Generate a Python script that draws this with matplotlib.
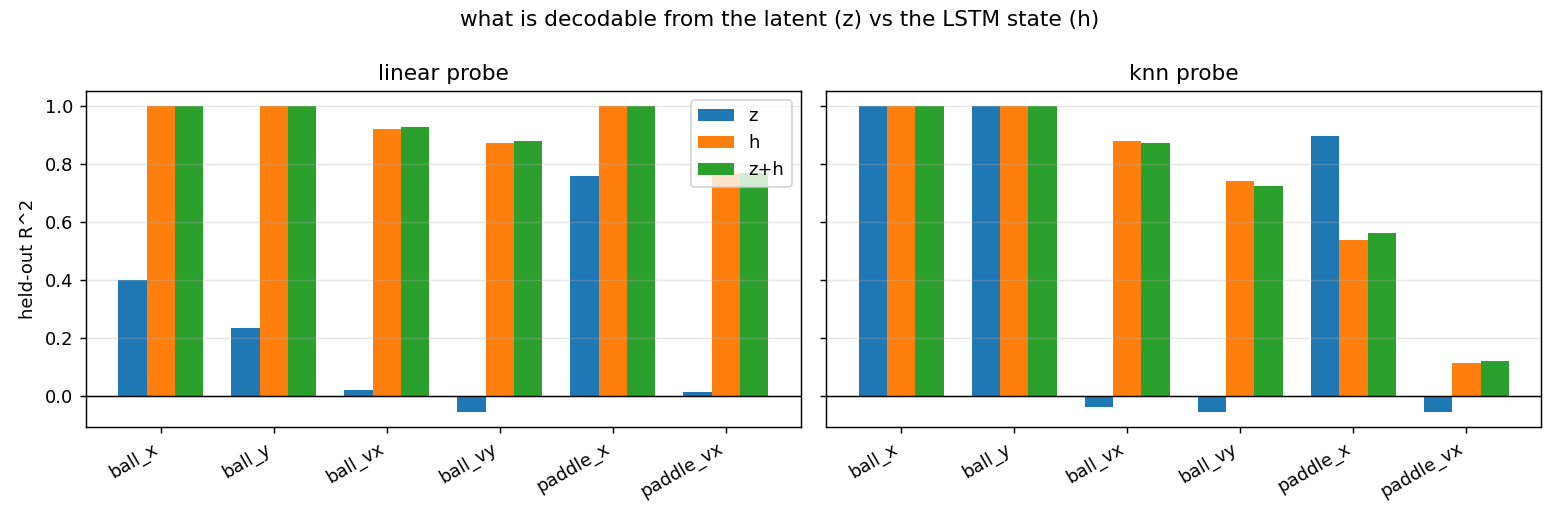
import numpy as np
from matplotlib import pyplot as plt

features = ['ball_x', 'ball_y', 'ball_vx', 'ball_vy', 'paddle_x', 'paddle_vx']
series = ['z', 'h', 'z+h']

# linear probe R^2
lin_z = [0.400, 0.234, 0.023, -0.053, 0.760, 0.016]
lin_h = [0.999, 0.999, 0.919, 0.871, 0.999, 0.764]
lin_zh = [0.999, 0.999, 0.926, 0.878, 0.999, 0.770]

# knn probe R^2
knn_z = [0.999, 0.999, -0.038, -0.053, 0.895, -0.053]
knn_h = [0.999, 0.999, 0.881, 0.743, 0.539, 0.116]
knn_zh = [0.999, 0.999, 0.871, 0.725, 0.563, 0.120]

fig, axes = plt.subplots(1, 2, figsize=(12, 4), dpi=130, sharey=True)
x = np.arange(len(features))
w = 0.25

panels = [('linear probe', [lin_z, lin_h, lin_zh]),
          ('knn probe', [knn_z, knn_h, knn_zh])]

for ax, (title, vals) in zip(axes, panels):
    for i, (name, v) in enumerate(zip(series, vals)):
        ax.bar(x + (i - 1) * w, v, w, label=name)
    ax.axhline(0, color='black', linewidth=0.8)
    ax.set_xticks(x)
    ax.set_xticklabels(features, rotation=30, ha='right')
    ax.set_title(title)
    ax.grid(axis='y', alpha=0.3)

axes[0].set_ylabel('held-out R^2')
axes[0].legend(loc='upper right')

fig.suptitle('what is decodable from the latent (z) vs the LSTM state (h)')
fig.subplots_adjust(left=0.055, right=0.988, top=0.825, bottom=0.179, wspace=0.036)
plt.savefig('out.png')
